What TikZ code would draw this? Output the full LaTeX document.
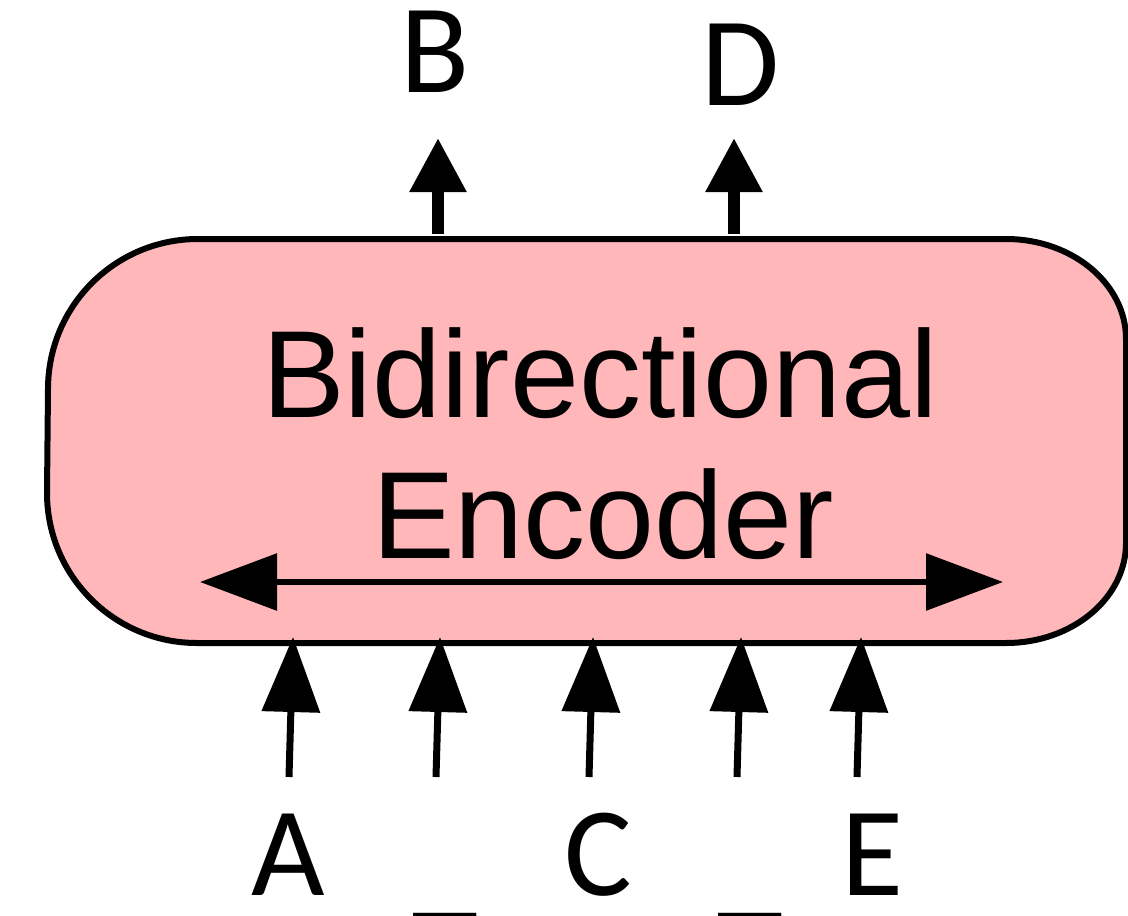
\documentclass[tikz,border=0pt]{standalone}
\usepackage{fontspec}
\setmainfont{Liberation Sans}
\newfontfamily\lblfont{Carlito}
\usetikzlibrary{arrows.meta}
\definecolor{encpink}{RGB}{255,183,186}
\begin{document}
\begin{tikzpicture}[x=1pt,y=1pt,
  lbl/.style={font=\lblfont\fontsize{127}{127}\selectfont, inner sep=0pt, anchor=base, text height=82pt, text depth=0pt},
  enctext/.style={font=\fontsize{124}{124}\selectfont, inner sep=0pt, anchor=base},
  inarrow/.style={line width=7pt, -{Triangle[length=75pt,width=57pt]}},
  outarrow/.style={line width=12pt, -{Triangle[length=54pt,width=54pt]}},
  bidir/.style={line width=6pt, {Triangle[length=77pt,width=56pt]}-{Triangle[length=77pt,width=56pt]}},
  encbox/.style={draw=black, line width=6pt, fill=encpink}]
\useasboundingbox (0,0) rectangle (1128,-916);
% encoder box
\draw[encbox] (197,-239) -- (1006,-239)
  arc[start angle=90,end angle=0,x radius=120,y radius=100] -- (1126,-543)
  arc[start angle=0,end angle=-90,x radius=120,y radius=100] -- (197,-643)
  arc[start angle=270,end angle=180,radius=150] -- (48,-389)
  arc[start angle=180,end angle=90,radius=150] -- cycle;
\node[enctext] (t1) at (600,-417) {Bidirectional};
\node[enctext] (t2) at (603,-558) {Encoder};
\coordinate (bl) at (200,-582);
\coordinate (br) at (1003,-582);
\draw[bidir] (bl) -- (br);
% outputs
\node[lbl] (B) at (435,-92) {B};
\node[lbl] (D) at (741,-105) {D};
\coordinate (oB0) at (438,-234);
\coordinate (oB1) at (438,-138);
\coordinate (oD0) at (734,-234);
\coordinate (oD1) at (734,-138);
\draw[outarrow] (oB0) -- (oB1);
\draw[outarrow] (oD0) -- (oD1);
% inputs
\node[lbl] (A) at (288,-895) {A};
\node[lbl, text height=0pt] (U1) at (445,-903) {\_};
\node[lbl] (C) at (598,-895) {C};
\node[lbl, text height=0pt] (U2) at (750,-903) {\_};
\node[lbl] (E) at (872,-895) {E};
\coordinate (iA0) at (289,-777);  \coordinate (iA1) at (293,-637);
\coordinate (iU10) at (436,-777); \coordinate (iU11) at (440,-637);
\coordinate (iC0) at (589,-777);  \coordinate (iC1) at (593,-637);
\coordinate (iU20) at (737,-777); \coordinate (iU21) at (741,-637);
\coordinate (iE0) at (857,-777);  \coordinate (iE1) at (861,-637);
\draw[inarrow] (iA0) -- (iA1);
\draw[inarrow] (iU10) -- (iU11);
\draw[inarrow] (iC0) -- (iC1);
\draw[inarrow] (iU20) -- (iU21);
\draw[inarrow] (iE0) -- (iE1);
\end{tikzpicture}
\end{document}
